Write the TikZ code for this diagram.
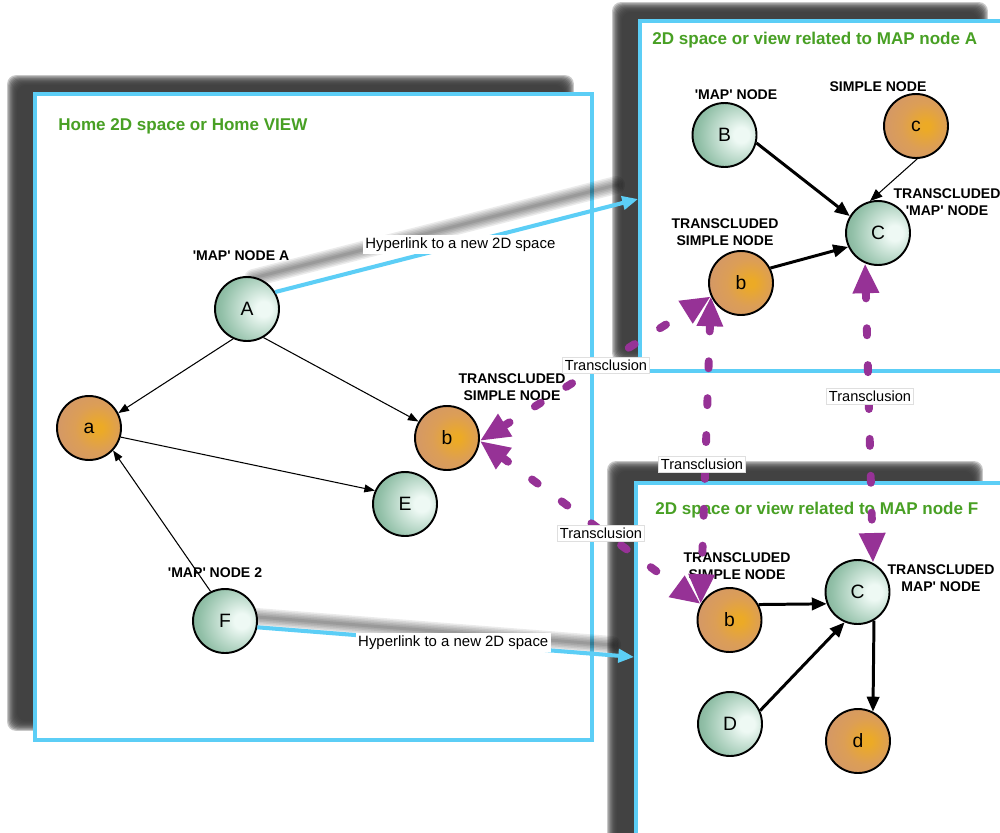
\documentclass[tikz,border=0pt]{standalone}
\usepackage{fontspec}
\setmainfont{Liberation Sans}
\usetikzlibrary{arrows.meta,calc}

\definecolor{linkblue}{RGB}{92,206,246}
\definecolor{titlegreen}{RGB}{72,160,36}
\definecolor{transpurple}{RGB}{150,50,150}
\definecolor{shadowgray}{RGB}{58,58,58}
\definecolor{mapHi}{RGB}{238,249,244}
\definecolor{mapMid}{RGB}{146,192,168}
\definecolor{mapOut}{RGB}{82,130,106}
\definecolor{simpHi}{RGB}{236,170,38}
\definecolor{simpMid}{RGB}{220,158,86}
\definecolor{simpOut}{RGB}{206,148,114}

\pgfdeclareradialshading{mapball}{\pgfpoint{14bp}{0bp}}{color(0bp)=(mapHi); color(6bp)=(mapHi); color(30bp)=(mapMid); color(58bp)=(mapOut); color(100bp)=(mapOut)}
\pgfdeclareradialshading{simpleball}{\pgfpoint{8bp}{0bp}}{color(0bp)=(simpHi); color(3bp)=(simpHi); color(18bp)=(simpMid); color(40bp)=(simpOut); color(100bp)=(simpOut)}

\pgfdeclarelayer{boxshadow}
\pgfdeclarelayer{boxes}
\pgfdeclarelayer{linkshade}
\pgfsetlayers{boxshadow,boxes,linkshade,main}

\newcommand{\sq}{\textquotesingle}

\begin{document}
\begin{tikzpicture}[x=0.02cm, y=-0.02cm,
  viewbox/.style={rectangle, draw=linkblue, fill=white, line width=2.2pt, inner sep=0},
  viewtitle/.style={anchor=west, inner sep=0, text=titlegreen, font=\fontsize{9.7}{11}\selectfont\bfseries},
  caption/.style={align=center, inner sep=0, font=\fontsize{8}{9.6}\selectfont\bfseries},
  mapnode/.style={circle, draw=black, line width=1.1pt, minimum size=1.28cm, inner sep=0, shade, shading=mapball, font=\fontsize{11}{12}\selectfont},
  simplenode/.style={circle, draw=black, line width=1.1pt, minimum size=1.28cm, inner sep=0, shade, shading=simpleball, font=\fontsize{11}{12}\selectfont},
  thinarrow/.style={draw, line width=0.6pt, -{Triangle[length=6pt,width=4.5pt]}},
  midarrow/.style={draw, line width=0.6pt, -{Triangle[length=7pt,width=5.5pt]}},
  thickarrow/.style={draw, line width=1.7pt, -{Triangle[length=8.5pt,width=7pt]}},
  hyperlink/.style={draw=linkblue, line width=2.3pt, -{Triangle[length=9pt,width=7.5pt]}},
  linklabel/.style={fill=white, inner sep=1.5pt, font=\fontsize{8.5}{10}\selectfont},
  transclusion/.style={draw=transpurple, line width=4.5pt, line cap=round, dash pattern=on 4pt off 17pt,
    {Triangle[length=17pt,width=14pt]}-{Triangle[length=17pt,width=14pt]}},
  translabel/.style={fill=white, draw=gray!25, line width=0.4pt, inner sep=1.5pt, font=\fontsize{8.3}{10}\selectfont}
]
\useasboundingbox (0,0) rectangle (1000,832);
\clip (0,0) rectangle (1000,832);

% the three views
\begin{pgfonlayer}{boxes}
\node[viewbox, minimum width=11.14cm, minimum height=12.92cm] (home) at (313.5,417) {};
\node[viewbox, minimum width=7.32cm, minimum height=7.0cm] (boxA) at (823,196) {};
\node[viewbox, minimum width=7.32cm, minimum height=7.6cm] (boxF) at (819,673) {};
\end{pgfonlayer}

% soft drop shadows behind the views
\begin{pgfonlayer}{boxshadow}
\foreach \bx/\sx/\sy in {home/-23/-14, boxA/-23/-14, boxF/-24/-17} {
  \foreach \k in {0,...,9} {
    \fill[shadowgray, opacity=0.28, rounded corners=5pt]
      ($(\bx.north west)+(\sx-3+\k*1.1, \sy-3+\k*1.1)$) rectangle ($(\bx.south east)+(\sx+3-\k*1.1, \sy+3-\k*1.1)$);
  }
}
\end{pgfonlayer}

% titles
\node[viewtitle] (tHome) at (58,126) {Home 2D space or Home VIEW};
\node[viewtitle] (tA) at (652,40) {2D space or view related to MAP node A};
\node[viewtitle] (tF) at (655,510) {2D space or view related to MAP node F};

% captions
\node[caption] (capA) at (241,256) {\sq MAP\sq{} NODE A};
\node[caption] (capbH) at (512,387) {TRANSCLUDED\\SIMPLE NODE};
\node[caption] (capF) at (215,573) {\sq MAP\sq{} NODE 2};
\node[caption] (capB) at (736,95) {\sq MAP\sq{} NODE};
\node[caption] (capc) at (878,87) {SIMPLE NODE};
\node[caption] (capCA) at (947,202) {TRANSCLUDED\\\sq MAP\sq{} NODE};
\node[caption] (capbA) at (725,232) {TRANSCLUDED\\SIMPLE NODE};
\node[caption] (capbF) at (737,566) {TRANSCLUDED\\SIMPLE NODE};
\node[caption] (capCF) at (941,578) {TRANSCLUDED\\MAP\sq{} NODE};

% home view nodes
\node[mapnode] (A) at (247,309) {A};
\node[simplenode] (a) at (89,428) {a};
\node[simplenode] (bH) at (447,438) {b};
\node[mapnode] (E) at (405,504) {E};
\node[mapnode] (F) at (225,621) {F};

% view of MAP node A
\node[mapnode] (B) at (724.5,135) {B};
\node[simplenode] (c) at (916,126) {c};
\node[mapnode] (CA) at (878,233) {C};
\node[simplenode] (bA) at (741,283) {b};

% view of MAP node F
\node[simplenode] (bF) at (729.5,620) {b};
\node[mapnode] (CF) at (857.5,592) {C};
\node[mapnode] (D) at (730,724) {D};
\node[simplenode] (d) at (858,741) {d};

% links inside the views
\draw[thinarrow] (A.-115) -- (a.27);
\draw[thinarrow] (A.-60) -- (bH.150);
\draw[thinarrow] (a.-16) -- (E.156);
\draw[thinarrow] (F.116) -- (a.-43);
\draw[thickarrow] (B.-14) -- (CA.149);
\draw[midarrow] (c.-88) -- (CA.104);
\draw[thickarrow] (bA.27) -- (CA.205);
\draw[thickarrow] (bF.28) -- (CF.201);
\draw[thickarrow] (D.24) -- (CF.247);
\draw[thickarrow] (CF.-60) -- (d.63);

% hyperlinks to the other views
\coordinate (yA) at (0,199);
\coordinate (yF) at (0,657);
\coordinate (hlA) at (boxA.west |- yA);
\coordinate (hlF) at (boxF.west |- yF);
\begin{pgfonlayer}{linkshade}
\foreach \w in {18,15,12,9,6,3} {
  \draw[black, opacity=0.08, line width=\w*0.567pt, line cap=round]
    ($(A.31)+(-22,-14)$) -- ($(hlA)+(-22,-14)$);
  \draw[black, opacity=0.08, line width=\w*0.567pt, line cap=round]
    ($(F.-11)+(-22,-12)$) -- ($(hlF)+(-22,-12)$);
}
\end{pgfonlayer}
\draw[hyperlink] (A.31) -- node[linklabel, pos=0.51] (hl1) {Hyperlink to a new 2D space} (hlA);
\draw[hyperlink] (F.-11) -- node[linklabel, pos=0.52] (hl2) {Hyperlink to a new 2D space} (hlF);

% transclusions
\draw[transclusion] (bH.355) -- (bA.204);
\draw[transclusion] (bH.355) -- (bF.151);
\draw[transclusion] (bA.204) -- (bF.151);
\draw[transclusion] (CA.247) -- (CF.62);

\node[translabel] (tr1) at (606,365) {Transclusion};
\node[translabel] (tr2) at (601,533) {Transclusion};
\node[translabel] (tr3) at (702,464) {Transclusion};
\node[translabel] (tr4) at (870,396) {Transclusion};
\end{tikzpicture}
\end{document}
